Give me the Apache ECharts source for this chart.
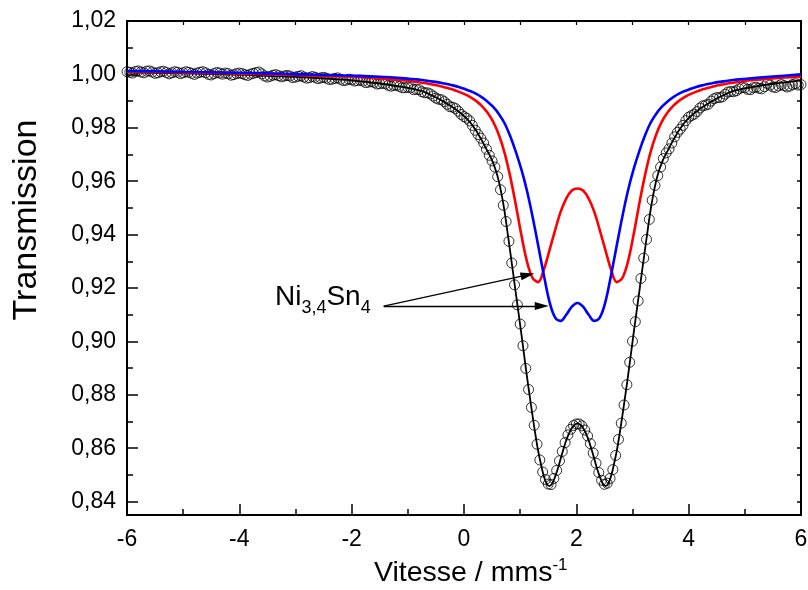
<!DOCTYPE html>
<html>
<head>
<meta charset="utf-8">
<script src="https://cdn.jsdelivr.net/npm/echarts@6/dist/echarts.min.js"></script>
<style>
  html, body { margin: 0; padding: 0; background: #fff; }
  #chart { width: 808px; height: 590px; }
</style>
</head>
<body>
<div id="chart"></div>
<script>
// ---- Mössbauer spectrum of the Ni3,4Sn4 sample ----

// measured transmission, one point every 0.05 mm/s from -6 to 6
const measuredStart = -6;
const measuredStep = 0.05;
const measuredT = [
  1.0010, 1.0008, 1.0005, 1.0011, 1.0013, 1.0009, 1.0006, 1.0012, 1.0013, 1.0009,
  1.0004, 1.0006, 1.0010, 1.0012, 1.0007, 1.0002, 1.0006, 1.0010, 1.0008, 1.0003,
  1.0006, 1.0010, 1.0008, 1.0004, 1.0000, 1.0005, 1.0008, 1.0010, 1.0006, 1.0000,
  0.9998, 1.0003, 1.0007, 1.0005, 1.0001, 1.0005, 1.0003, 0.9997, 0.9999, 1.0003,
  1.0005, 1.0003, 0.9999, 0.9996, 1.0001, 1.0004, 1.0007, 1.0009, 1.0002, 0.9994,
  0.9990, 0.9993, 0.9997, 0.9999, 0.9995, 0.9991, 0.9994, 0.9996, 0.9994, 0.9988,
  0.9990, 0.9993, 0.9995, 0.9990, 0.9986, 0.9988, 0.9992, 0.9989, 0.9984, 0.9987,
  0.9989, 0.9986, 0.9981, 0.9982, 0.9985, 0.9987, 0.9982, 0.9977, 0.9978, 0.9982,
  0.9980, 0.9975, 0.9977, 0.9979, 0.9975, 0.9969, 0.9971, 0.9973, 0.9970, 0.9964,
  0.9965, 0.9967, 0.9965, 0.9959, 0.9956, 0.9959, 0.9959, 0.9955, 0.9950, 0.9950,
  0.9952, 0.9950, 0.9943, 0.9944, 0.9943, 0.9935, 0.9931, 0.9931, 0.9927, 0.9919,
  0.9911, 0.9907, 0.9905, 0.9898, 0.9888, 0.9879, 0.9877, 0.9872, 0.9862, 0.9850,
  0.9842, 0.9836, 0.9826, 0.9809, 0.9791, 0.9775, 0.9761, 0.9743, 0.9720, 0.9697,
  0.9676, 0.9653, 0.9617, 0.9568, 0.9510, 0.9449, 0.9375, 0.9294, 0.9212, 0.9137,
  0.9065, 0.8984, 0.8899, 0.8820, 0.8753, 0.8686, 0.8615, 0.8556, 0.8511, 0.8483,
  0.8466, 0.8464, 0.8487, 0.8517, 0.8553, 0.8588, 0.8621, 0.8650, 0.8671, 0.8685,
  0.8691, 0.8691, 0.8684, 0.8668, 0.8646, 0.8617, 0.8582, 0.8544, 0.8509, 0.8480,
  0.8465, 0.8469, 0.8487, 0.8520, 0.8573, 0.8633, 0.8694, 0.8762, 0.8838, 0.8922,
  0.9001, 0.9074, 0.9152, 0.9236, 0.9312, 0.9382, 0.9457, 0.9529, 0.9584, 0.9621,
  0.9653, 0.9685, 0.9706, 0.9721, 0.9743, 0.9766, 0.9783, 0.9795, 0.9809, 0.9827,
  0.9840, 0.9846, 0.9851, 0.9861, 0.9874, 0.9882, 0.9885, 0.9888, 0.9900, 0.9909,
  0.9913, 0.9913, 0.9916, 0.9926, 0.9934, 0.9936, 0.9935, 0.9939, 0.9946, 0.9951,
  0.9950, 0.9944, 0.9943, 0.9950, 0.9952, 0.9948, 0.9946, 0.9954, 0.9966, 0.9960,
  0.9953, 0.9951, 0.9957, 0.9962, 0.9958, 0.9953, 0.9956, 0.9962, 0.9965, 0.9960,
  0.9962
];

// velocities of the fitted curves: coarse in the wings, fine around the doublets
const wingLeftV = [-6, -5.5, -5, -4.5, -4, -3.5, -3, -2.5, -2, -1.5];
const wingRightV = [5.5, 6];
const coreStart = -0.98;
const totalCoreStep = 0.05;   // 121 samples up to 5.02
const subCoreStep = 0.1;      // 61 samples up to 5.02

// total fit (black)
const totalFitT = [
  1.0007, 1.0006, 1.0004, 1.0002, 0.9999, 0.9995, 0.9991, 0.9985, 0.9978, 0.9966,
  0.9949, 0.9947, 0.9944, 0.9942, 0.9939, 0.9936, 0.9932, 0.9927, 0.9922, 0.9917,
  0.9912, 0.9906, 0.9900, 0.9894, 0.9887, 0.9881, 0.9874, 0.9866, 0.9858, 0.9849,
  0.9840, 0.9830, 0.9818, 0.9803, 0.9788, 0.9770, 0.9752, 0.9732, 0.9712, 0.9692,
  0.9668, 0.9638, 0.9600, 0.9550, 0.9490, 0.9416, 0.9340, 0.9263, 0.9185, 0.9108,
  0.9030, 0.8950, 0.8870, 0.8795, 0.8722, 0.8653, 0.8590, 0.8540, 0.8497, 0.8468,
  0.8458, 0.8468, 0.8492, 0.8523, 0.8560, 0.8596, 0.8630, 0.8656, 0.8676, 0.8688,
  0.8693,
  0.8688, 0.8676, 0.8656, 0.8630, 0.8596, 0.8560, 0.8523, 0.8492, 0.8468, 0.8458,
  0.8468, 0.8497, 0.8540, 0.8590, 0.8653, 0.8722, 0.8795, 0.8870, 0.8950, 0.9030,
  0.9108, 0.9185, 0.9263, 0.9340, 0.9416, 0.9490, 0.9550, 0.9600, 0.9638, 0.9668,
  0.9692, 0.9712, 0.9732, 0.9752, 0.9770, 0.9788, 0.9803, 0.9818, 0.9830, 0.9840,
  0.9849, 0.9858, 0.9866, 0.9874, 0.9881, 0.9887, 0.9894, 0.9900, 0.9906, 0.9912,
  0.9917, 0.9922, 0.9927, 0.9932, 0.9936, 0.9939, 0.9942, 0.9944, 0.9947, 0.9949,
  0.9965, 0.9978
];

// outer doublet (red)
const redDoubletT = [
  1.0010, 1.0009, 1.0007, 1.0005, 1.0003, 1.0000, 0.9998, 0.9994, 0.9991, 0.9985,
  0.9976, 0.9973, 0.9970, 0.9967, 0.9963, 0.9959, 0.9954, 0.9948, 0.9942, 0.9934,
  0.9925, 0.9914, 0.9900, 0.9881, 0.9856, 0.9822, 0.9774, 0.9708, 0.9620, 0.9515,
  0.9400, 0.9300, 0.9238, 0.9222, 0.9268, 0.9340, 0.9415, 0.9485, 0.9535, 0.9565,
  0.9573,
  0.9565, 0.9535, 0.9485, 0.9415, 0.9340, 0.9268, 0.9222, 0.9238, 0.9300, 0.9400,
  0.9515, 0.9620, 0.9708, 0.9774, 0.9822, 0.9856, 0.9881, 0.9900, 0.9914, 0.9925,
  0.9934, 0.9942, 0.9948, 0.9954, 0.9959, 0.9963, 0.9967, 0.9970, 0.9973, 0.9976,
  0.9985, 0.9991
];

// inner doublet (blue)
const blueDoubletT = [
  1.0013, 1.0012, 1.0010, 1.0008, 1.0006, 1.0004, 1.0001, 0.9998, 0.9995, 0.9991,
  0.9984, 0.9982, 0.9980, 0.9977, 0.9974, 0.9971, 0.9967, 0.9963, 0.9958, 0.9952,
  0.9945, 0.9937, 0.9927, 0.9914, 0.9898, 0.9878, 0.9852, 0.9818, 0.9770, 0.9712,
  0.9645, 0.9565, 0.9468, 0.9360, 0.9250, 0.9150, 0.9090, 0.9077, 0.9100, 0.9130,
  0.9144,
  0.9130, 0.9100, 0.9077, 0.9090, 0.9150, 0.9250, 0.9360, 0.9468, 0.9565, 0.9645,
  0.9712, 0.9770, 0.9818, 0.9852, 0.9878, 0.9898, 0.9914, 0.9927, 0.9937, 0.9945,
  0.9952, 0.9958, 0.9963, 0.9967, 0.9971, 0.9974, 0.9977, 0.9980, 0.9982, 0.9984,
  0.9992, 1.0000
];

// axis ticks
const xMin = -6, xMax = 6, xMajorStep = 2, xTopStep = 1;
const yMin = 0.835, yMax = 1.02;
const yMajorTicks = [0.84, 0.86, 0.88, 0.90, 0.92, 0.94, 0.96, 0.98, 1.00, 1.02];
const yMinorTicks = [0.85, 0.87, 0.89, 0.91, 0.93, 0.95, 0.97, 0.99, 1.01];
const yRightTicks = [0.84, 0.85, 0.86, 0.87, 0.88, 0.89, 0.90, 0.91, 0.92, 0.93,
                     0.94, 0.95, 0.96, 0.97, 0.98, 0.99, 1.00, 1.01, 1.02];

// annotation: label anchor and the two arrows pointing at the doublets
const labelAnchor = [-3.366, 0.9128];
const arrowFrom = [-1.43, 0.9132];
const arrowTo = [[1.132, 0.9249], [1.384, 0.9133]];

// ---------------------------------------------------------------
const FONT = '"Liberation Sans", Arial, sans-serif';

function grid(start, step, count) {
  const out = [];
  for (let i = 0; i < count; i++) out.push(Math.round((start + i * step) * 1000) / 1000);
  return out;
}
function pairs(xs, ys) { return ys.map((y, i) => [xs[i], y]); }

const measuredV = grid(measuredStart, measuredStep, measuredT.length);
const totalV = wingLeftV.concat(grid(coreStart, totalCoreStep, 121), wingRightV);
const subV = wingLeftV.concat(grid(coreStart, subCoreStep, 61), wingRightV);

const chart = echarts.init(document.getElementById('chart'));

const axisLineStyle = { color: '#000', width: 2 };
const tickStyle = { color: '#000', width: 1.5 };

function yAxisDef(position, ticks, len, withLine, withLabels) {
  return {
    type: 'value', position, min: yMin, max: yMax,
    axisLine: { show: withLine, onZero: false, lineStyle: axisLineStyle },
    axisTick: { show: true, inside: true, length: len, lineStyle: tickStyle, customValues: ticks },
    axisLabel: withLabels ? {
      show: true, customValues: ticks, margin: 11, fontSize: 23, color: '#000', fontFamily: FONT,
      formatter: v => v.toFixed(2).replace('.', ',')
    } : { show: false },
    splitLine: { show: false }
  };
}

const option = {
  animation: false,
  backgroundColor: '#fff',
  textStyle: { fontFamily: FONT },
  grid: { left: 127, right: 7, top: 21, bottom: 75, containLabel: false, outerBoundsMode: 'none' },
  xAxis: [
    {
      type: 'value', position: 'bottom', min: xMin, max: xMax, interval: xMajorStep,
      axisLine: { onZero: false, lineStyle: axisLineStyle },
      axisTick: { inside: true, length: 11, lineStyle: tickStyle },
      minorTick: { show: true, splitNumber: 2, length: 6, lineStyle: tickStyle },
      axisLabel: { margin: 13, fontSize: 23, color: '#000', fontFamily: FONT },
      splitLine: { show: false }, minorSplitLine: { show: false }
    },
    {
      type: 'value', position: 'top', min: xMin, max: xMax, interval: xTopStep,
      axisLine: { onZero: false, lineStyle: axisLineStyle },
      axisTick: { inside: true, length: 4, lineStyle: { color: '#000', width: 1.2 } },
      axisLabel: { show: false },
      splitLine: { show: false }
    }
  ],
  yAxis: [
    yAxisDef('left', yMajorTicks, 11, true, true),
    yAxisDef('left', yMinorTicks, 6, false, false),
    yAxisDef('right', yRightTicks, 4, true, false)
  ],
  series: [
    {
      name: 'measured', type: 'scatter', data: pairs(measuredV, measuredT),
      symbol: 'circle', symbolSize: 10, silent: true, z: 2,
      itemStyle: { color: 'rgba(0,0,0,0)', borderColor: '#000', borderWidth: 1 }
    },
    {
      name: 'total fit', type: 'line', data: pairs(totalV, totalFitT),
      showSymbol: false, smooth: 0.35, silent: true, z: 3,
      lineStyle: { color: '#000', width: 1.8 }
    },
    {
      name: 'outer doublet', type: 'line', data: pairs(subV, redDoubletT),
      showSymbol: false, smooth: 0.35, silent: true, z: 4,
      lineStyle: { color: '#ff0000', width: 2.6 }
    },
    {
      name: 'inner doublet', type: 'line', data: pairs(subV, blueDoubletT),
      showSymbol: false, smooth: 0.35, silent: true, z: 5,
      lineStyle: { color: '#0000ff', width: 2.6 }
    },
    {
      name: 'arrows', type: 'line', data: [], silent: true, z: 6,
      markLine: {
        silent: true, animation: false,
        symbol: ['none', 'triangle'], symbolSize: [8, 14],
        label: { show: false },
        lineStyle: { color: '#000', width: 1.3, type: 'solid' },
        emphasis: { disabled: true },
        data: arrowTo.map(t => [{ coord: arrowFrom }, { coord: t }])
      }
    }
  ]
};
chart.setOption(option);

// ---- text elements: axis titles with super-/subscripts and the phase label ----
const measureCtx = document.createElement('canvas').getContext('2d');
function textWidth(t, size) { measureCtx.font = size + 'px ' + FONT; return measureCtx.measureText(t).width; }

// pieces: [text, fontSize, baseline shift]; laid out left to right on one baseline
function textRun(pieces, x0, baseline) {
  let x = x0;
  const out = [];
  pieces.forEach(([t, size, shift]) => {
    out.push({
      type: 'text', x: x, y: baseline + shift - 0.3465 * size, silent: true, z: 100,
      style: { text: t, fontSize: size, fontFamily: FONT, fill: '#000', textAlign: 'left', textVerticalAlign: 'middle' }
    });
    x += textWidth(t, size);
  });
  return out;
}

const anchorPx = chart.convertToPixel({ xAxisIndex: 0, yAxisIndex: 0 }, labelAnchor);
const graphics = []
  .concat(textRun([['Ni', 28, 0], ['3,4', 18, 7], ['Sn', 28, 0], ['4', 18, 7]], anchorPx[0], anchorPx[1]))
  .concat(textRun([['Vitesse / mms', 28.5, 0], ['-1', 17, -12]], 374, 583))
  .concat([{
    type: 'text', x: 27, y: 220, rotation: Math.PI / 2, silent: true, z: 100,
    style: { text: 'Transmission', fontSize: 34, fontFamily: FONT, fill: '#000', textAlign: 'center', textVerticalAlign: 'middle' }
  }]);
chart.setOption({ graphic: graphics });
</script>
</body>
</html>
